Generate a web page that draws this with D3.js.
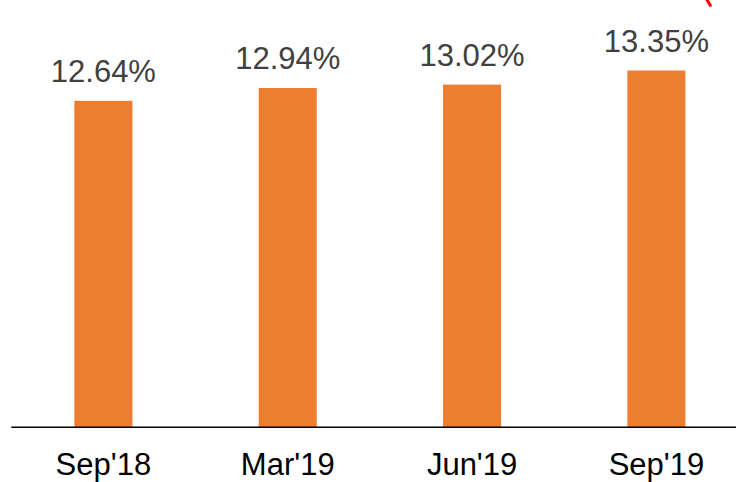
<!DOCTYPE html>
<html>
<head>
<meta charset="utf-8">
<script src="https://cdn.jsdelivr.net/npm/d3@7"></script>
<style>
  body { margin: 0; background: #fff; }
  svg { display: block; }
</style>
</head>
<body>
<div id="chart"></div>
<script>
"use strict";
// chart values
const periods = ["Sep'18", "Mar'19", "Jun'19", "Sep'19"];
const ratios = [12.64, 12.94, 13.02, 13.35];

const width = 736, height = 482;
const svg = d3.select("#chart").append("svg")
    .attr("width", width)
    .attr("height", height);

// band runs past the right edge, the picture is cropped there
const x = d3.scaleBand()
    .domain(periods)
    .range([11.3, 748.5])
    .paddingInner(0.685)
    .paddingOuter(0.342);

// the axis does not start at zero
const y = d3.scaleLinear()
    .domain([5, 15])
    .range([427.3, 0]);

const base = y(5);

svg.selectAll(".bar").data(periods).join("rect")
    .attr("class", "bar")
    .attr("x", d => x(d))
    .attr("width", x.bandwidth())
    .attr("y", (d, i) => y(ratios[i]))
    .attr("height", (d, i) => base - y(ratios[i]))
    .attr("fill", "#ED7D31");

// value labels over the bars
svg.selectAll(".val").data(periods).join("text")
    .attr("class", "val")
    .attr("x", d => x(d) + x.bandwidth() / 2)
    .attr("y", (d, i) => y(ratios[i]) - 19)
    .attr("text-anchor", "middle")
    .attr("font-family", "Liberation Sans, Arial, sans-serif")
    .attr("font-size", 31)
    .attr("fill", "#404040")
    .text((d, i) => ratios[i].toFixed(2) + "%");

// x axis: only the baseline and the labels
const xAxis = svg.append("g")
    .attr("transform", `translate(0,${base})`)
    .call(d3.axisBottom(x).tickSize(0).tickPadding(26));
xAxis.select(".domain")
    .attr("d", `M11.3,0H${width}`)
    .attr("stroke", "#000")
    .attr("stroke-width", 1.6);
xAxis.selectAll("text")
    .attr("font-family", "Liberation Sans, Arial, sans-serif")
    .attr("font-size", 31)
    .attr("fill", "#000");

// bit of a red shape cut off at the top right
svg.append("path")
    .attr("d", "M706.5,-1 L711,6.5")
    .attr("stroke", "#FF0000")
    .attr("stroke-width", 3)
    .attr("fill", "none");
</script>
</body>
</html>
